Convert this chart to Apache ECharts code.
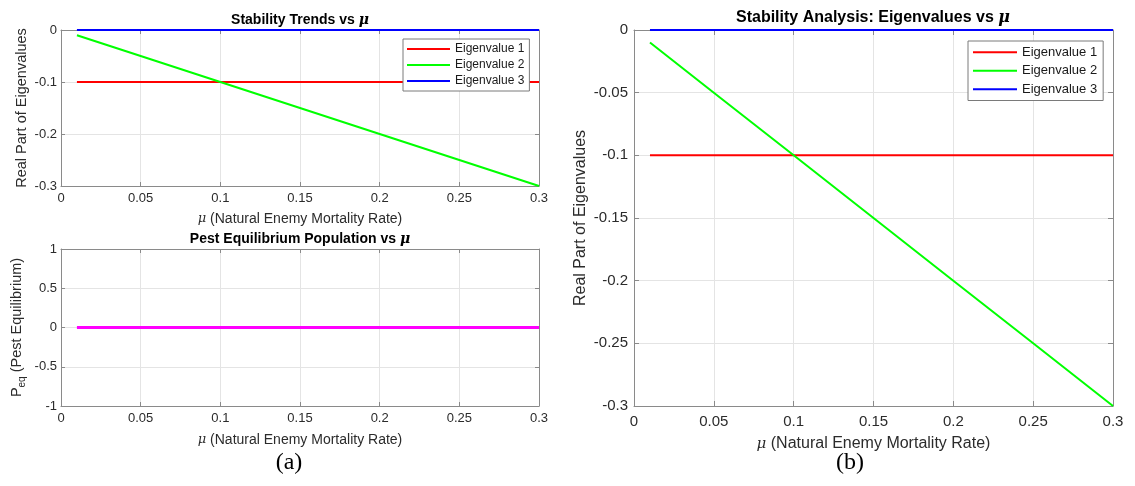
<!DOCTYPE html>
<html>
<head>
<meta charset="utf-8">
<title>Stability and equilibrium vs mu</title>
<script src="https://cdn.jsdelivr.net/npm/echarts/dist/echarts.min.js"></script>
<style>
  html, body { margin: 0; padding: 0; background: #fff; }
  #chart { width: 1135px; height: 486px; }
</style>
</head>
<body>
<div id="chart"></div>
<script>
// Natural enemy mortality rate (mu) samples and the quantities computed at each
const muValues        = [0.01, 0.05, 0.10, 0.15, 0.20, 0.25, 0.30];
const eigenvalue1     = [-0.10, -0.10, -0.10, -0.10, -0.10, -0.10, -0.10];
const eigenvalue2     = [-0.01, -0.05, -0.10, -0.15, -0.20, -0.25, -0.30];
const eigenvalue3     = [0, 0, 0, 0, 0, 0, 0];
const pestEquilibrium = [0, 0, 0, 0, 0, 0, 0];

// Axis ticks
const muTicks         = [0, 0.05, 0.1, 0.15, 0.2, 0.25, 0.3];
const eigTicksCoarse  = [-0.3, -0.2, -0.1, 0];
const eigTicksFine    = [-0.3, -0.25, -0.2, -0.15, -0.1, -0.05, 0];
const peqTicks        = [-1, -0.5, 0, 0.5, 1];

const seriesNames = ['Eigenvalue 1', 'Eigenvalue 2', 'Eigenvalue 3'];

const FONT = '"Liberation Sans", Arial, sans-serif';
const SERIF = '"DejaVu Serif", "Liberation Serif", serif';
const CAPTION_FONT = '"Liberation Serif", "DejaVu Serif", serif';
const AXIS_COLOR = '#8a8a8a';
const GRID_COLOR = '#e4e4e4';
const TEXT_COLOR = '#2b2b2b';

const fmt = v => String(Number(Number(v).toFixed(4)));

function range(ticks) {
  return {
    min: ticks[0],
    max: ticks[ticks.length - 1],
    interval: Number((ticks[1] - ticks[0]).toFixed(6))
  };
}

function mainAxis(ticks, gridIndex, position, o) {
  return Object.assign({
    type: 'value',
    gridIndex: gridIndex,
    position: position,
    axisLine: { show: true, onZero: false, lineStyle: { color: AXIS_COLOR, width: 1 } },
    axisTick: { show: true, inside: true, length: o.tick, lineStyle: { color: AXIS_COLOR } },
    axisLabel: {
      show: true, margin: o.margin, fontSize: o.fontSize, color: TEXT_COLOR,
      fontFamily: FONT, formatter: fmt, showMinLabel: true, showMaxLabel: true
    },
    splitLine: { show: true, lineStyle: { color: GRID_COLOR, width: 1 } },
    name: o.name,
    nameLocation: 'middle',
    nameGap: o.nameGap,
    nameTextStyle: o.nameStyle
  }, range(ticks));
}

function boxAxis(ticks, gridIndex, position, tick) {
  return Object.assign({
    type: 'value',
    gridIndex: gridIndex,
    position: position,
    axisLine: { show: true, onZero: false, lineStyle: { color: AXIS_COLOR, width: 1 } },
    axisTick: { show: true, inside: true, length: tick, lineStyle: { color: AXIS_COLOR } },
    axisLabel: { show: false },
    splitLine: { show: false }
  }, range(ticks));
}

function muName(size, lh) {
  return {
    fontFamily: FONT, fontSize: size, color: TEXT_COLOR, lineHeight: lh,
    rich: {
      mu: { fontFamily: SERIF, fontStyle: 'italic', fontSize: size - 1, color: TEXT_COLOR, lineHeight: lh },
      t: { fontFamily: FONT, fontSize: size, color: TEXT_COLOR, lineHeight: lh }
    }
  };
}
const MU_LABEL = '{mu|μ}{t| (Natural Enemy Mortality Rate)}';

function plainName(size, lh) {
  return { fontFamily: FONT, fontSize: size, color: TEXT_COLOR, lineHeight: lh };
}

function pairs(ys) { return muValues.map((m, i) => [m, ys[i]]); }

function lineSeries(name, ys, xi, yi, color, width) {
  return {
    type: 'line', name: name, xAxisIndex: xi, yAxisIndex: yi,
    data: pairs(ys), symbol: 'none', clip: false,
    lineStyle: { color: color, width: width }, itemStyle: { color: color },
    emphasis: { disabled: true }
  };
}

function titleItem(text, cx, top, size) {
  return {
    text: text, left: cx, top: top, textAlign: 'center', padding: 0,
    textStyle: {
      fontFamily: FONT, fontSize: size, fontWeight: 'bold', color: '#000', lineHeight: size + 2,
      rich: {
        b: { fontFamily: FONT, fontSize: size, fontWeight: 'bold', color: '#000', lineHeight: size + 2 },
        mu: { fontFamily: SERIF, fontSize: size, fontWeight: 'bold', fontStyle: 'italic', color: '#000', lineHeight: size + 2 }
      }
    }
  };
}

function captionItem(text, cx) {
  return {
    text: text, left: cx, top: 450, textAlign: 'center', padding: 0,
    textStyle: { fontFamily: CAPTION_FONT, fontSize: 24, fontWeight: 'normal', color: '#000', lineHeight: 26 }
  };
}

function legendItem(left, top, size, lh, lineLen, pad) {
  return {
    data: seriesNames, orient: 'vertical', left: left, top: top,
    icon: 'rect', itemWidth: lineLen, itemHeight: 2.2, itemGap: 0, itemTextGap: 4,
    padding: pad, backgroundColor: '#fff', borderColor: '#7a7a7a', borderWidth: 1,
    borderRadius: 0, selectedMode: false,
    textStyle: { fontFamily: FONT, fontSize: size, color: '#1a1a1a', lineHeight: lh }
  };
}

const option = {
  animation: false,
  backgroundColor: '#fff',
  title: [
    titleItem('{b|Stability Trends vs }{mu|μ}', 300, 12, 14),
    titleItem('{b|Pest Equilibrium Population vs }{mu|μ}', 300, 231, 14),
    titleItem('{b|Stability Analysis: Eigenvalues vs }{mu|μ}', 873, 9, 16),
    captionItem('(a)', 289),
    captionItem('(b)', 850)
  ],
  legend: [
    legendItem(403, 39, 12, 16, 43, [2, 5, 2, 4]),
    legendItem(968, 41, 13, 18.5, 44, [2, 6, 2, 5])
  ],
  grid: [
    { left: 61, top: 30, width: 478, height: 156 },
    { left: 61, top: 249, width: 478, height: 157 },
    { left: 634, top: 30, width: 479, height: 376 }
  ],
  xAxis: [
    mainAxis(muTicks, 0, 'bottom', { tick: 4, margin: 6, fontSize: 13, name: MU_LABEL, nameGap: 25, nameStyle: muName(14, 16) }),
    boxAxis(muTicks, 0, 'top', 4),
    mainAxis(muTicks, 1, 'bottom', { tick: 4, margin: 6, fontSize: 13, name: MU_LABEL, nameGap: 26, nameStyle: muName(14, 16) }),
    boxAxis(muTicks, 1, 'top', 4),
    mainAxis(muTicks, 2, 'bottom', { tick: 5, margin: 8, fontSize: 15, name: MU_LABEL, nameGap: 29, nameStyle: muName(16, 18) }),
    boxAxis(muTicks, 2, 'top', 5)
  ],
  yAxis: [
    mainAxis(eigTicksCoarse, 0, 'left', { tick: 4, margin: 4, fontSize: 13, name: 'Real Part of Eigenvalues', nameGap: 31, nameStyle: plainName(14.5, 16) }),
    boxAxis(eigTicksCoarse, 0, 'right', 4),
    mainAxis(peqTicks, 1, 'left', {
      tick: 4, margin: 4, fontSize: 13,
      name: '{p|P}{sub|eq}{p| (Pest Equilibrium)}', nameGap: 34,
      nameStyle: {
        fontFamily: FONT, fontSize: 14.5, color: TEXT_COLOR,
        rich: {
          p: { fontFamily: FONT, fontSize: 14.5, color: TEXT_COLOR, lineHeight: 20, verticalAlign: 'middle' },
          sub: { fontFamily: FONT, fontSize: 10, color: TEXT_COLOR, lineHeight: 7, verticalAlign: 'bottom' }
        }
      }
    }),
    boxAxis(peqTicks, 1, 'right', 4),
    mainAxis(eigTicksFine, 2, 'left', { tick: 5, margin: 6, fontSize: 15, name: 'Real Part of Eigenvalues', nameGap: 44, nameStyle: plainName(16, 18) }),
    boxAxis(eigTicksFine, 2, 'right', 5)
  ],
  series: [
    lineSeries('Eigenvalue 1', eigenvalue1, 0, 0, '#ff0000', 2),
    lineSeries('Eigenvalue 2', eigenvalue2, 0, 0, '#00ff00', 2),
    lineSeries('Eigenvalue 3', eigenvalue3, 0, 0, '#0000ff', 2),
    lineSeries('P_eq', pestEquilibrium, 2, 2, '#ff00ff', 3),
    lineSeries('Eigenvalue 1', eigenvalue1, 4, 4, '#ff0000', 2),
    lineSeries('Eigenvalue 2', eigenvalue2, 4, 4, '#00ff00', 2),
    lineSeries('Eigenvalue 3', eigenvalue3, 4, 4, '#0000ff', 2)
  ]
};

const chart = echarts.init(document.getElementById('chart'), null, { renderer: 'canvas' });
chart.setOption(option);
</script>
</body>
</html>
